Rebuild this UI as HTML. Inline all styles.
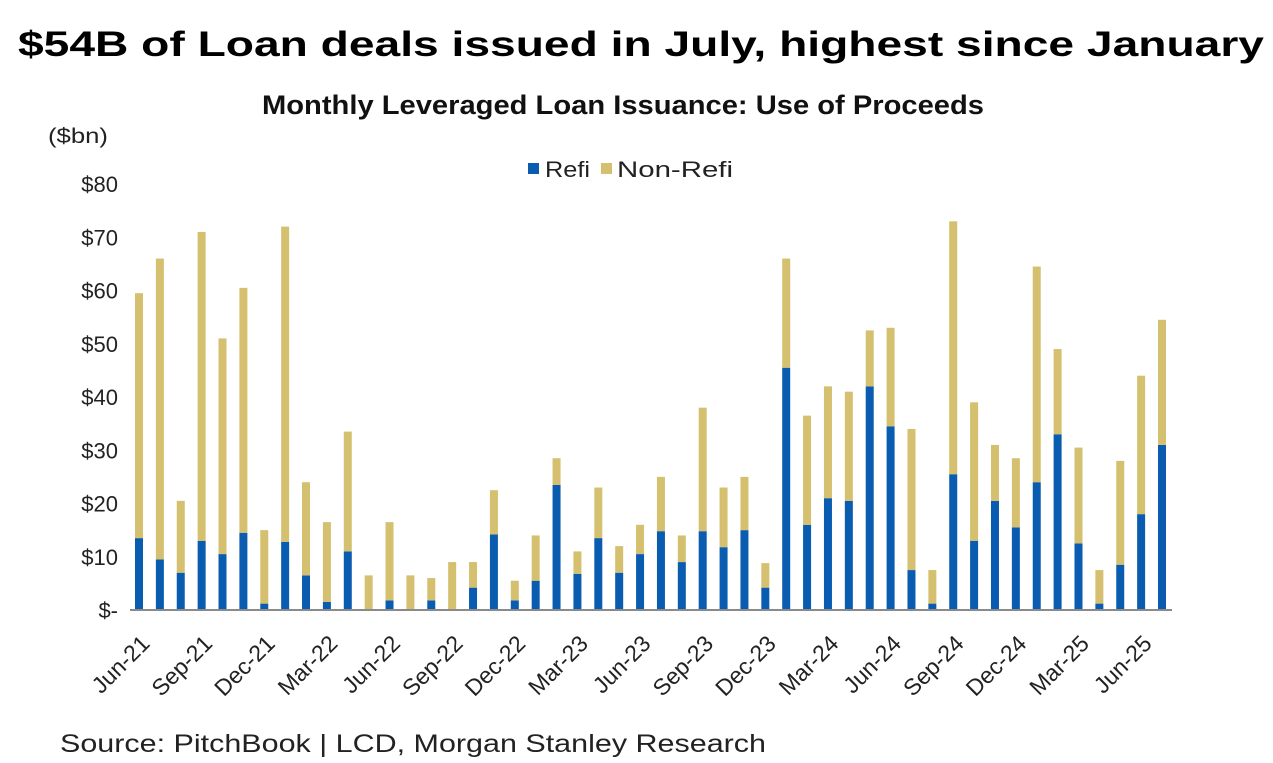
<!DOCTYPE html>
<html><head><meta charset="utf-8"><style>
body{margin:0;background:#fff;width:1273px;height:763px;overflow:hidden}
svg{display:block;font-family:"Liberation Sans",sans-serif}
</style></head><body>
<svg id="chart" width="1273" height="763">
<text x="18" y="56" font-size="35" font-weight="bold" textLength="1246" lengthAdjust="spacingAndGlyphs" fill="#000">$54B of Loan deals issued in July, highest since January</text>
<text x="262" y="114" font-size="27" font-weight="bold" textLength="722" lengthAdjust="spacingAndGlyphs" fill="#111">Monthly Leveraged Loan Issuance: Use of Proceeds</text>
<text x="48" y="143" font-size="21" textLength="60" lengthAdjust="spacingAndGlyphs" fill="#222">($bn)</text>
<g>
<rect x="528" y="163" width="11" height="11" fill="#0a5cb0"/>
<text x="545" y="177" font-size="22" textLength="45" lengthAdjust="spacingAndGlyphs" fill="#222">Refi</text>
<rect x="601" y="163" width="11" height="11" fill="#d4c06e"/>
<text x="617" y="177" font-size="22" textLength="116" lengthAdjust="spacingAndGlyphs" fill="#222">Non-Refi</text>
</g>
<g id="yaxis"></g>
<g id="bars"></g>
<line x1="130" y1="610" x2="1172" y2="610" stroke="#8a8a8a" stroke-width="2"/>
<g id="xaxis"></g>
<text x="60" y="752" font-size="25" textLength="706" lengthAdjust="spacingAndGlyphs" fill="#222">Source: PitchBook | LCD, Morgan Stanley Research</text>
</svg>
<script>
const months = ["Jun-21","Jul-21","Aug-21","Sep-21","Oct-21","Nov-21","Dec-21","Jan-22","Feb-22","Mar-22","Apr-22","May-22","Jun-22","Jul-22","Aug-22","Sep-22","Oct-22","Nov-22","Dec-22","Jan-23","Feb-23","Mar-23","Apr-23","May-23","Jun-23","Jul-23","Aug-23","Sep-23","Oct-23","Nov-23","Dec-23","Jan-24","Feb-24","Mar-24","Apr-24","May-24","Jun-24","Jul-24","Aug-24","Sep-24","Oct-24","Nov-24","Dec-24","Jan-25","Feb-25","Mar-25","Apr-25","May-25","Jun-25","Jul-25"];
const refi = [13.5,9.5,7,13,10.5,14.5,1.2,12.8,6.5,1.5,11,0,1.8,0,1.8,0,4.2,14.2,1.8,5.5,23.5,6.8,13.5,7,10.5,14.8,9,14.8,11.8,15,4.2,45.5,16,21,20.5,42,34.5,7.5,1.2,25.5,13,20.5,15.5,24,33,12.5,1.2,8.5,18,31];
const total = [59.5,66,20.5,71,51,60.5,15,72,24,16.5,33.5,6.5,16.5,6.5,6,9,9,22.5,5.5,14,28.5,11,23,12,16,25,14,38,23,25,8.8,66,36.5,42,41,52.5,53,34,7.5,73,39,31,28.5,64.5,49,30.5,7.5,28,44,54.5];
const yTicks = [0,10,20,30,40,50,60,70,80];
const yTickLabels = ["$-","$10","$20","$30","$40","$50","$60","$70","$80"];

const NS="http://www.w3.org/2000/svg";
const y0=610, pxPer=5.325, x0=139, step=(1162-139)/49, bw=8;
const Y=v=>y0-v*pxPer, X=i=>x0+i*step;
const yax=document.getElementById('yaxis'), bars=document.getElementById('bars'), xax=document.getElementById('xaxis');
yTicks.forEach((t,k)=>{
  const tx=document.createElementNS(NS,'text');
  tx.setAttribute('x',118);tx.setAttribute('y',Y(t)+8);
  tx.setAttribute('text-anchor','end');tx.setAttribute('font-size','22');tx.setAttribute('fill','#222');
  tx.textContent=yTickLabels[k];
  
  
  yax.appendChild(tx);
});
months.forEach((m,i)=>{
  const r=refi[i], n=total[i]-refi[i];
  const a=document.createElementNS(NS,'rect');
  a.setAttribute('x',X(i)-bw/2);a.setAttribute('y',Y(r));a.setAttribute('width',bw);a.setAttribute('height',r*pxPer);a.setAttribute('fill','#0a5cb0');
  
  
  bars.appendChild(a);
  const b=document.createElementNS(NS,'rect');
  b.setAttribute('x',X(i)-bw/2);b.setAttribute('y',Y(r+n));b.setAttribute('width',bw);b.setAttribute('height',n*pxPer);b.setAttribute('fill','#d4c06e');
  
  
  bars.appendChild(b);
  if(i%3===0){
    const tx=document.createElementNS(NS,'text');
    const lx=X(i)+12, ly=645;
    tx.setAttribute('x',lx);tx.setAttribute('y',ly);
    tx.setAttribute('text-anchor','end');tx.setAttribute('font-size','23');tx.setAttribute('fill','#222');
    tx.setAttribute('transform','rotate(-45 '+lx+' '+ly+')');
    tx.textContent=m;
    
    
    xax.appendChild(tx);
  }
});
</script>
</body></html>
